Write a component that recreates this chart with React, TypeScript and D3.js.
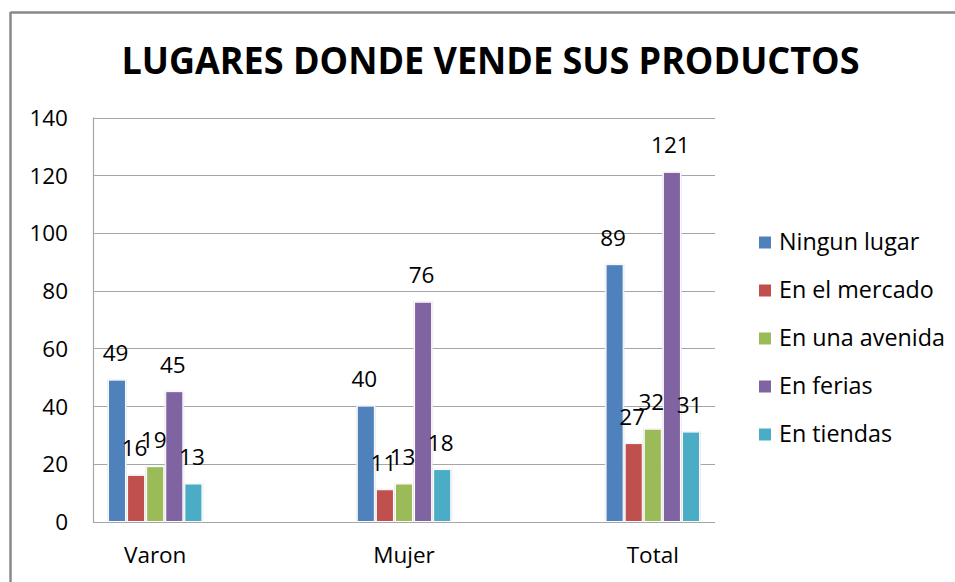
import React from "react";
import * as d3 from "d3";

const categories = ["Varon", "Mujer", "Total"];
const seriesNames = ["Ningun lugar", "En el mercado", "En una avenida", "En ferias", "En tiendas"];
const seriesColors = ["#4F81BD", "#C0504D", "#9BBB59", "#8064A2", "#4BACC6"];
const ningunLugar = [49, 40, 89];
const enElMercado = [16, 11, 27];
const enUnaAvenida = [19, 13, 32];
const enFerias = [45, 76, 121];
const enTiendas = [13, 18, 31];
const yTicks = [0, 20, 40, 60, 80, 100, 120, 140];
const title = "LUGARES DONDE VENDE SUS PRODUCTOS";

const seriesValues = [ningunLugar, enElMercado, enUnaAvenida, enFerias, enTiendas];

const W = 955;
const H = 582;
const plotLeft = 93;
const plotRight = 715;
const plotTop = 117.5;
const plotBottom = 521.5;
const font = "'Open Sans', 'DejaVu Sans', sans-serif";

export default function App() {
  const y = d3.scaleLinear().domain([0, 140]).range([plotBottom, plotTop]);
  const x = d3.scalePoint<string>().domain(categories).range([plotLeft, plotRight]).padding(0.25);
  const groupWidth = 95.5;
  const inner = d3
    .scaleBand<string>()
    .domain(seriesNames)
    .range([-groupWidth / 2, groupWidth / 2])
    .paddingInner(0)
    .paddingOuter(0);
  const step = inner.bandwidth();
  const inset = 1;

  return (
    <svg
      width={W}
      height={H}
      style={{ position: "absolute", left: 0, top: 0, background: "#fff" }}
      fontFamily={font}
    >
      <rect x={0} y={0} width={W} height={H} fill="#fff" />
      {/* chart border */}
      <line x1={10.5} y1={12.5} x2={W} y2={12.5} stroke="#898989" strokeWidth={2.5} />
      <line x1={10.5} y1={12} x2={10.5} y2={H} stroke="#898989" strokeWidth={2.5} />

      {/* title */}
      <text
        x={490.5}
        y={73.5}
        textAnchor="middle"
        fontSize={38}
        fontWeight="bold"
        fill="#000"
        textLength={738}
        lengthAdjust="spacingAndGlyphs"
      >
        {title}
      </text>

      {/* gridlines */}
      {yTicks.map((t) => (
        <line
          key={"g" + t}
          x1={plotLeft}
          x2={plotRight}
          y1={Math.round(y(t)) + 0.5}
          y2={Math.round(y(t)) + 0.5}
          stroke="#a6a6a6"
          strokeWidth={1.2}
        />
      ))}
      <line
        x1={plotLeft + 0.5}
        x2={plotLeft + 0.5}
        y1={y(140)}
        y2={y(0) + 1}
        stroke="#a6a6a6"
        strokeWidth={1.2}
      />

      {/* y tick labels */}
      {yTicks.map((t) => (
        <text key={"t" + t} x={68} y={y(t) + 8.5} textAnchor="end" fontSize={22.5} fill="#000">
          {t}
        </text>
      ))}

      {/* bars */}
      {categories.map((c, ci) => (
        <g key={c}>
          {seriesNames.map((s, si) => {
            const v = seriesValues[si][ci];
            const bx = (x(c) as number) + (inner(s) as number);
            const top = y(v);
            return (
              <g key={s}>
                <rect
                  x={bx - 0.5}
                  y={top - 1}
                  width={step + 1}
                  height={y(0) - top + 1}
                  fill="#e6e6e6"
                  opacity={0.7}
                />
                <rect
                  x={bx + inset}
                  y={top}
                  width={step - 2 * inset}
                  height={y(0) - top}
                  fill={seriesColors[si]}
                  stroke="#ffffff"
                  strokeWidth={1}
                />
              </g>
            );
          })}
        </g>
      ))}

      {/* data labels */}
      {categories.map((c, ci) =>
        seriesNames.map((s, si) => {
          const v = seriesValues[si][ci];
          const cx = (x(c) as number) + (inner(s) as number) + step / 2 - 1.5;
          return (
            <text key={c + s} x={cx} y={y(v) - 19} textAnchor="middle" fontSize={22.5} fill="#000">
              {v}
            </text>
          );
        })
      )}

      {/* category labels */}
      {categories.map((c) => (
        <text key={"c" + c} x={x(c) as number} y={563} textAnchor="middle" fontSize={22.5} fill="#000">
          {c}
        </text>
      ))}

      {/* legend */}
      {seriesNames.map((s, i) => {
        const cy = 242.5 + i * 48;
        return (
          <g key={"l" + s}>
            <rect x={759} y={cy - 6} width={12} height={12} fill={seriesColors[i]} />
            <text x={779} y={cy + 7.5} fontSize={23.3} fill="#000">
              {s}
            </text>
          </g>
        );
      })}
    </svg>
  );
}
